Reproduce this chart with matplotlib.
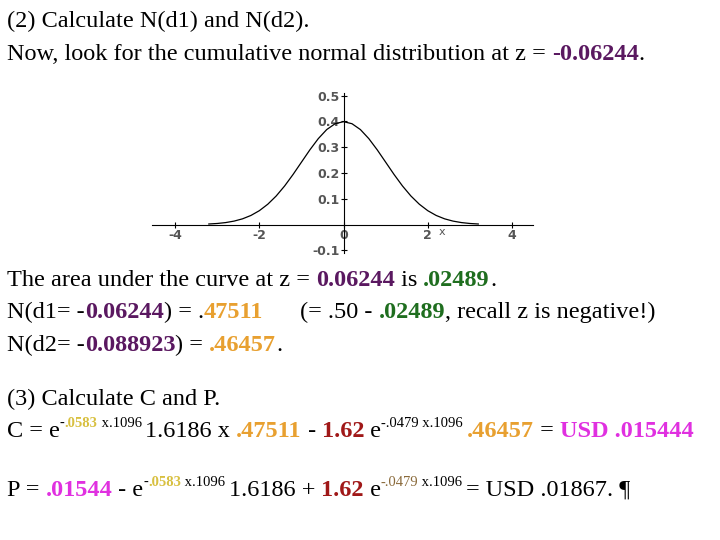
import matplotlib
matplotlib.use("Agg")
import matplotlib.pyplot as plt
from matplotlib.transforms import IdentityTransform

# ---- data ----
curve_x = [-3.2, -3.0, -2.8, -2.6, -2.4, -2.2, -2.0, -1.8, -1.6, -1.4, -1.2, -1.0, -0.8, -0.6, -0.4, -0.2,
           0.0, 0.2, 0.4, 0.6, 0.8, 1.0, 1.2, 1.4, 1.6, 1.8, 2.0, 2.2, 2.4, 2.6, 2.8, 3.0, 3.2]
curve_y = [0.0024, 0.0044, 0.0079, 0.0136, 0.0224, 0.0355, 0.0540, 0.0790, 0.1109, 0.1497, 0.1942, 0.2420,
           0.2897, 0.3332, 0.3683, 0.3910, 0.3989, 0.3910, 0.3683, 0.3332, 0.2897, 0.2420, 0.1942, 0.1497,
           0.1109, 0.0790, 0.0540, 0.0355, 0.0224, 0.0136, 0.0079, 0.0044, 0.0024]
xticks = [-4, -2, 0, 2, 4]
yticks = [-0.1, 0.1, 0.2, 0.3, 0.4, 0.5]

PUR = "#5a1860"; ORA = "#e8a030"; GRN = "#1f6e1f"; RED = "#a01818"; MAG = "#e030e0"
YEL = "#d8c040"; BRN = "#8a6a3a"; K = "black"

fig = plt.figure(figsize=(7.2, 5.4), dpi=100)
fig.patch.set_facecolor("white")

ax = fig.add_axes([152/720, (540-253)/540, 381/720, 160/540])
ax.plot(curve_x, curve_y, color="black", lw=0.9)
ax.set_xlim(-4.55, 4.5)
ax.set_ylim(-0.11, 0.51)
for s in ["top", "right"]:
    ax.spines[s].set_visible(False)
ax.spines["left"].set_position(("data", 0))
ax.spines["bottom"].set_position(("data", 0))
ax.set_xticks(xticks)
ax.set_xticklabels(["-4", "-2", "0", "2", "4"])
ax.set_yticks(yticks)
ax.set_yticklabels(["-0.1", "0.1", "0.2", "0.3", "0.4", "0.5"])
ax.tick_params(axis="both", direction="inout", length=4, width=0.8, labelsize=9, colors="black",
               labelcolor="#555555", pad=1)
for lab in ax.get_xticklabels() + ax.get_yticklabels():
    lab.set_fontweight("bold")
ax.text(2.25, -0.01, "x", fontsize=8, color="#555555", va="top")
ax.patch.set_alpha(0)

FS = 17.5
FAM = "Liberation Serif"
renderer = fig.canvas.get_renderer()

def line(segs, ybase, x0=7):
    x = x0
    yb = 540 - ybase
    for seg in segs:
        txt, col = seg[0], seg[1]
        bold = len(seg) > 2 and seg[2]
        sup = len(seg) > 3 and seg[3]
        fs = FS * 0.6 if sup else FS
        yy = yb + (10 if sup else 0)
        t = fig.text(x, yy, txt, transform=IdentityTransform(), fontsize=fs, family=FAM, color=col,
                     fontweight="bold" if bold else "normal", va="baseline", ha="left")
        x = t.get_window_extent(renderer).x1

line([("(2) Calculate N(d1) and N(d2).", K)], 27)
line([("Now, look for the cumulative normal distribution at z = ", K), ("-0.06244", PUR, True), (".", K)], 60)
line([("The area under the curve at z = ", K), ("0.06244", PUR, True), (" is ", K), (".02489", GRN, True), (".", K)], 286)
line([("N(d1= -", K), ("0.06244", PUR, True), (") = .", K), ("47511", ORA, True)], 318)
line([("(= .50 - ", K), (".02489", GRN, True), (", recall z is negative!)", K)], 318, x0=300)
line([("N(d2= -", K), ("0.088923", PUR, True), (") = ", K), (".46457", ORA, True), (".", K)], 351)
line([("(3) Calculate C and P.", K)], 405)
line([("C = e", K), ("-", K, False, True), (".0583", YEL, True, True), (" x.1096 ", K, False, True),
      ("1.6186 x ", K), (".47511", ORA, True), (" - ", K), ("1.62", RED, True), (" e", K),
      ("-.0479 x.1096 ", K, False, True), (".46457", ORA, True), (" = ", K), ("USD .015444", MAG, True)], 437)
line([("P = ", K), (".01544", MAG, True), (" - e", K), ("-", K, False, True), (".0583", YEL, True, True),
      (" x.1096 ", K, False, True), ("1.6186 + ", K), ("1.62", RED, True), (" e", K),
      ("-.0479", BRN, False, True), (" x.1096 ", K, False, True), ("= USD .01867. \u00b6", K)], 496)

fig.savefig("out.png", dpi=100, facecolor="white")
